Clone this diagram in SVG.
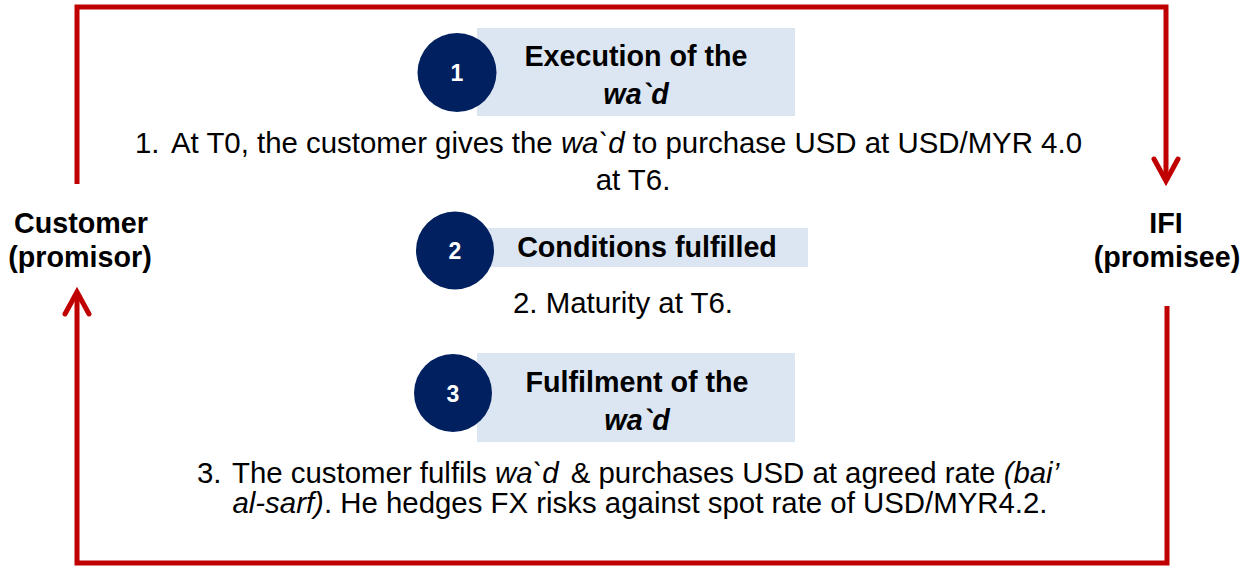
<svg xmlns="http://www.w3.org/2000/svg" width="1253" height="566" viewBox="0 0 1253 566">
<defs>
<style>
.t{font-family:"Liberation Sans",Arial,sans-serif;font-size:29.4px;fill:#000}
.b{font-weight:bold;font-size:28.7px}
.i{font-style:italic}
.num{font-family:"Liberation Sans",Arial,sans-serif;font-size:23px;font-weight:bold;fill:#fff}
.box{fill:#DCE6F2}
.circ{fill:#002060}
.con{fill:none;stroke:#C00000;stroke-width:5}
</style>
<marker id="chev" markerUnits="userSpaceOnUse" viewBox="-30 -20 40 40" refX="0" refY="0" markerWidth="40" markerHeight="40" orient="auto" overflow="visible">
<path d="M-22,-12 L0,0 L-22,12" fill="none" stroke="#C00000" stroke-width="5" stroke-linecap="round" stroke-linejoin="miter"/>
</marker>
</defs>
<rect width="1253" height="566" fill="#fff"/>
<g id="connectors">
<path class="con" d="M77,184 V7 H1166 V181" marker-end="url(#chev)"/>
<path class="con" d="M1167,306 V563 H77 V292" marker-end="url(#chev)"/>
</g>
<g id="customer">
<text class="t b" x="81" y="233" text-anchor="middle">Customer</text>
<text class="t b" x="80" y="267" text-anchor="middle">(promisor)</text>
</g>
<g id="ifi">
<text class="t b" x="1166" y="233" text-anchor="middle">IFI</text>
<text class="t b" x="1167" y="267" text-anchor="middle">(promisee)</text>
</g>
<g id="step1">
<rect class="box" x="477" y="28" width="318" height="88"/>
<circle class="circ" cx="457" cy="72.5" r="39.5"/>
<text class="num" x="457" y="81" text-anchor="middle">1</text>
<text class="t b" x="636" y="66" text-anchor="middle">Execution of the</text>
<text class="t b i" x="636" y="104" text-anchor="middle">wa`d</text>
<text class="t" x="135" y="153">1.<tspan x="171">At T0, the customer gives the </tspan><tspan class="i">wa`d</tspan> to purchase USD at USD/MYR 4.0</text>
<text class="t" x="633" y="190" text-anchor="middle">at T6.</text>
</g>
<g id="step2">
<rect class="box" x="488" y="228" width="320" height="39"/>
<circle class="circ" cx="455" cy="250.5" r="39"/>
<text class="num" x="455" y="259" text-anchor="middle">2</text>
<text class="t b" x="647" y="257" text-anchor="middle">Conditions fulfilled</text>
<text class="t" x="513" y="313">2. Maturity at T6.</text>
</g>
<g id="step3">
<rect class="box" x="477" y="353" width="318" height="89"/>
<circle class="circ" cx="453" cy="393" r="39"/>
<text class="num" x="453" y="401.5" text-anchor="middle">3</text>
<text class="t b" x="637" y="392" text-anchor="middle">Fulfilment of the</text>
<text class="t b i" x="637" y="430" text-anchor="middle">wa`d</text>
<text class="t" x="197" y="483">3.<tspan x="232">The customer fulfils </tspan><tspan class="i">wa`d</tspan><tspan dx="12">&amp; purchases USD at agreed rate </tspan><tspan class="i">(bai’</tspan></text>
<text class="t" x="640" y="513" text-anchor="middle"><tspan class="i">al-sarf)</tspan>. He hedges FX risks against spot rate of USD/MYR4.2.</text>
</g>
</svg>
